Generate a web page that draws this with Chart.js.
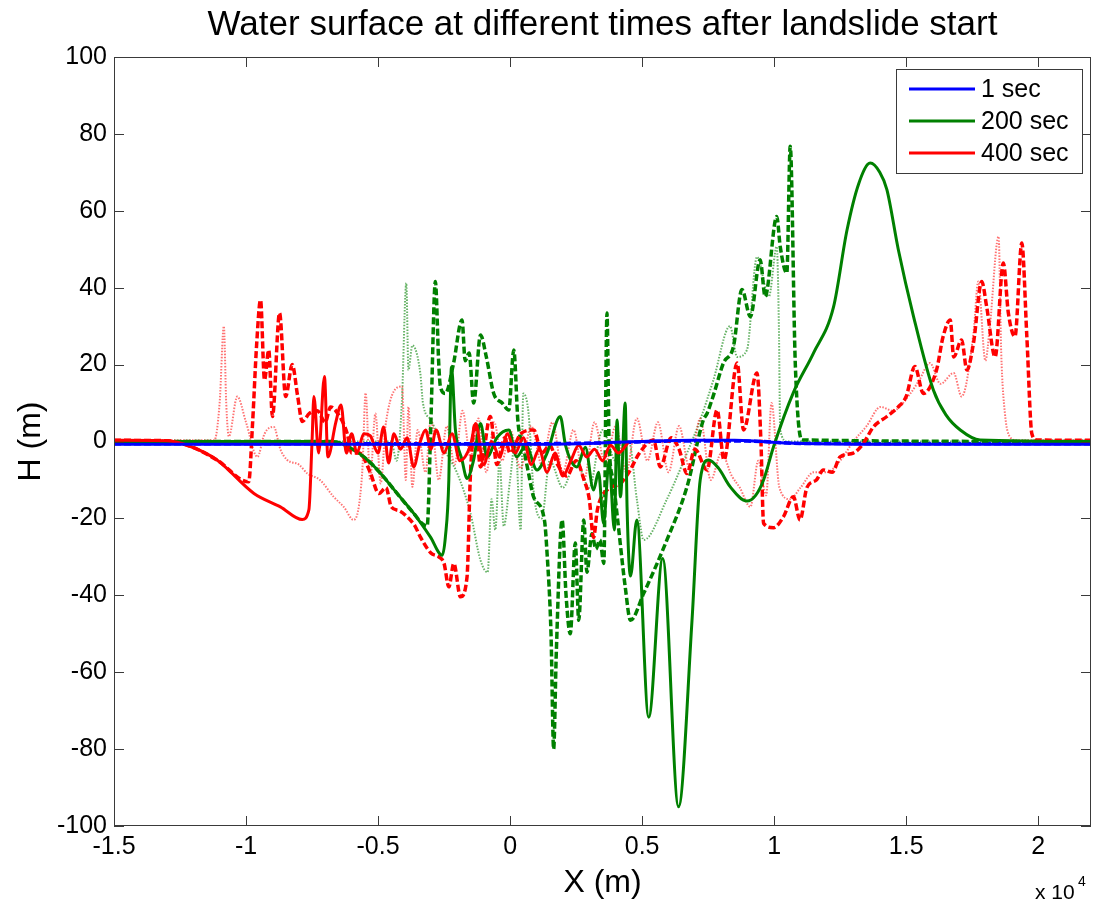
<!DOCTYPE html>
<html>
<head>
<meta charset="utf-8">
<title>Water surface</title>
<script src="https://cdn.jsdelivr.net/npm/chart.js@4.4.1/dist/chart.umd.min.js"></script>
<style>
  body { margin: 0; background: #fff; }
  canvas { display: block; }
</style>
</head>
<body>
<canvas id="chart" width="1094" height="904"></canvas>
<script>
"use strict"

// x values are read in units of 10^4 m (the axis multiplier), y in metres
const X_SCALE = 1e4;

const chartTitle = "Water surface at different times after landslide start";
const xTicks = [-1.5, -1, -0.5, 0, 0.5, 1, 1.5, 2];
const yTicks = [-100, -80, -60, -40, -20, 0, 20, 40, 60, 80, 100];
const seriesNames = ["1 sec", "200 sec", "400 sec"];

// 1 sec
const blueSolidX = [-1.5, -0.5, 0.0, 0.3, 0.4, 0.5, 0.6, 0.7, 0.85, 0.95, 1.05, 1.3, 2.2];
const blueSolidY = [-0.7, -0.7, -0.7, -0.5, -0.2, 0.0, 0.2, 0.3, 0.3, 0.0, -0.4, -0.7, -0.7];
const blueDashX = [-1.5, 0.0, 0.4, 0.6, 0.9, 1.1, 2.2];
const blueDashY = [-0.6, -0.6, -0.3, 0.1, 0.1, -0.5, -0.6];

// 200 sec
const greenSolidX = [-1.5, -0.7, -0.64, -0.554, -0.49, -0.428, -0.365, -0.302, -0.257, -0.245, -0.232, -0.226, -0.222, -0.207,
  -0.182, -0.163, -0.138, -0.112, -0.087, -0.05, -0.005, 0.025, 0.06, 0.102, 0.14, 0.19, 0.21, 0.253, 0.285, 0.316, 0.335,
  0.354, 0.375, 0.395, 0.405, 0.418, 0.436, 0.443, 0.456, 0.48, 0.525, 0.578, 0.638, 0.689, 0.72, 0.752, 0.79, 0.834,
  0.897, 0.93, 0.96, 0.998, 1.072, 1.149, 1.225, 1.276, 1.32, 1.364, 1.4, 1.427, 1.47, 1.528, 1.603, 1.65, 1.705, 1.78, 2.2];
const greenSolidY = [0, 0, -0.5, -4, -8.3, -13.5, -18.7, -24.8, -29.6, -24.8, -10, 11.7, 19.4, 3,
  -4.8, -9.6, -4.8, 4.7, -4, 1, 3, -4, -1, -7.4, -3, 6.5, -1, -6.6, -1.5, -12.6, -8,
  -21.3, -5, -23, 5.6, -14.4, 10, -17, -35, -20.4, -71.7, -30.4, -95, -46.5, -10, -4.8, -7, -11.8,
  -15.5, -14, -10, -1.3, 12.6, 23, 35, 55, 67, 72.4, 70, 65.5, 50, 32.5, 13.4, 7, 3, 0.4, 0];
const greenDashX = [-1.5, -0.7, -0.64, -0.554, -0.49, -0.428, -0.365, -0.33, -0.314, -0.3, -0.283, -0.27, -0.264, -0.245,
  -0.215, -0.182, -0.17, -0.155, -0.138, -0.112, -0.09, -0.062, -0.03, -0.005, 0.014, 0.03, 0.05, 0.07, 0.089, 0.13,
  0.14, 0.155, 0.165, 0.175, 0.197, 0.212, 0.228, 0.247, 0.26, 0.279, 0.291, 0.31, 0.325, 0.34, 0.355, 0.367, 0.375,
  0.39, 0.41, 0.436, 0.456, 0.506, 0.594, 0.67, 0.732, 0.746, 0.77, 0.808, 0.846, 0.878, 0.91, 0.947, 0.966, 1.01,
  1.023, 1.048, 1.061, 1.08, 1.105, 2.2];
const greenDashY = [0, 0, -0.5, -4, -8.3, -13.5, -18.7, -21.5, -22, 5, 41.6, 20, 14.3, 12.5,
  20, 31.6, 21, 23, 10, 27.7, 22, 12.5, 10, 8.2, 23.8, 5, -1.3, -8.3, -14.4, -20.4,
  -29, -50, -80, -55, -20.4, -40, -50, -26.4, -46.5, -20.4, -34, -24, -28, -25.6, -31.7, 33.4, 0,
  -10, -22, -37.8, -46.5, -39.5, -25.6, -11.8, 5.6, 7.3, 12, 20.4, 24.7, 39.5, 32.5, 47.3, 37.7, 58.5,
  50.7, 43.8, 76.8, 20.4, 0.4, 0];
const greenDotX = [-1.5, -0.45, -0.43, -0.41, -0.393, -0.385, -0.37, -0.34, -0.33, -0.3, -0.25, -0.2, -0.15, -0.112,
  -0.085, -0.07, -0.056, -0.04, -0.024, 0.0, 0.02, 0.04, 0.05, 0.07, 0.09, 0.12, 0.15, 0.2, 0.25, 0.3, 0.35, 0.4,
  0.45, 0.48, 0.506, 0.594, 0.67, 0.72, 0.77, 0.833, 0.86, 0.897, 0.935, 0.98, 1.01, 1.018, 1.023, 1.05, 2.2];
const greenDotY = [0, 0, -5, 10, 41.2, 18.6, 25, 17.8, 10, 5.6, -2, -8.3, -18.7, -30.9,
  -34, -15, -23, -5, -22, -10, 0, -23, 12.5, 7.3, -13.5, -20, -5, -12, -5, -12, 3, -5,
  0, -15, -25.6, -15, -3, 5.6, 16, 30, 22, 23.8, 48, 37.7, 50.7, 30, 3, 0, 0];

// 400 sec
const redSolidX = [-1.5, -1.3, -1.21, -1.11, -0.97, -0.87, -0.787, -0.762, -0.75, -0.743, -0.725, -0.703, -0.69, -0.66,
  -0.64, -0.62, -0.6, -0.58, -0.554, -0.53, -0.5, -0.479, -0.46, -0.44, -0.415, -0.39, -0.365, -0.34, -0.32, -0.3,
  -0.28, -0.25, -0.22, -0.19, -0.15, -0.13, -0.1, -0.07, -0.04, -0.01, 0.02, 0.05, 0.08, 0.11, 0.14, 0.17, 0.2, 0.23,
  0.26, 0.29, 0.32, 0.35, 0.38, 0.41, 0.45];
const redSolidY = [0.3, 0.2, -1.3, -4.8, -13.5, -17, -20.3, -17.8, 0, 11.7, -3, 16.9, -4, 5,
  9.5, -3, 2, -3, 2, 1.5, -3, 3.8, -5.6, 2, -2, 1, -6.6, 0, 3, -2,
  3, -3, 2, -5, -1, 4.7, -6, 0, -4, 2, -3, 1, -6, -2, -8, -3, -9, -5,
  -1, -4, -2, -5, -1, -3, 0];
const redDashX = [-1.5, -1.3, -1.21, -1.11, -0.99, -0.975, -0.96, -0.945, -0.93, -0.914, -0.9, -0.873, -0.85, -0.825,
  -0.805, -0.787, -0.76, -0.73, -0.7, -0.68, -0.65, -0.617, -0.6, -0.57, -0.53, -0.497, -0.47, -0.45, -0.42, -0.39,
  -0.36, -0.34, -0.3, -0.27, -0.25, -0.232, -0.213, -0.188, -0.163, -0.15, -0.131, -0.112, -0.075, -0.05, -0.02, 0.0,
  0.04, 0.09, 0.12, 0.15, 0.18, 0.215, 0.25, 0.28, 0.3, 0.316, 0.33, 0.342, 0.38, 0.417, 0.45, 0.49, 0.543, 0.569,
  0.61, 0.64, 0.67, 0.7, 0.746, 0.784, 0.81, 0.86, 0.884, 0.935, 0.95, 0.96, 0.998, 1.035, 1.073, 1.098, 1.124, 1.16,
  1.186, 1.22, 1.25, 1.3, 1.338, 1.376, 1.427, 1.47, 1.5, 1.533, 1.565, 1.615, 1.64, 1.667, 1.68, 1.71, 1.73, 1.755,
  1.786, 1.805, 1.837, 1.868, 1.887, 1.912, 1.938, 1.957, 1.976, 1.995, 2.2];
const redDashY = [0.3, 0.2, -1.3, -4.8, -10.5, 5, 25, 36.8, 16, 23.8, 6.5, 33.4, 11.7, 20,
  12, 5.2, 7.3, 8, 5, 9, 7, 2.1, -3, -3, -8, -13.5, -12, -17, -18, -19.6,
  -22, -24.8, -29, -30, -31.7, -37.8, -31.7, -40.4, -35.2, -8.3, 4.7, -6.6, 6.5, -6, 1, -3,
  2, 3, -3, -1, -6, -9, -5, -10, -15, -25, -18, -15, -12, -11, -8, -3, 0.4, -6.6,
  1, -2, -8.3, -2, -7.4, 8.2, -4.8, 20.4, 3, 17.8, 0, -21.3, -22.4, -19.6, -14.4, -20.4, -12, -10,
  -7.4, -8, -4, -3, -0.5, 3.8, 6.5, 9, 11.7, 19.5, 12.5, 18.6, 27.3, 31.6, 22, 26.4, 18.6, 25.6,
  41.6, 35, 22, 46.4, 33.4, 27.3, 51.6, 27.3, 2, 0.4, 0.3];
const redDotX = [-1.5, -1.12, -1.1, -1.084, -1.075, -1.065, -1.033, -1.0, -0.957, -0.93, -0.895, -0.87, -0.844, -0.8,
  -0.768, -0.72, -0.668, -0.63, -0.592, -0.56, -0.547, -0.53, -0.51, -0.49, -0.47, -0.409, -0.395, -0.385, -0.37,
  -0.35, -0.32, -0.3, -0.27, -0.24, -0.21, -0.18, -0.15, -0.12, -0.09, -0.06, -0.03, 0.0, 0.04, 0.08, 0.12, 0.16,
  0.2, 0.24, 0.28, 0.32, 0.36, 0.4, 0.44, 0.48, 0.52, 0.56, 0.6, 0.64, 0.68, 0.72, 0.76, 0.8, 0.84, 0.87, 0.91,
  0.94, 0.97, 0.99, 1.02, 1.06, 1.1, 1.15, 1.2, 1.25, 1.3, 1.35, 1.403, 1.45, 1.516, 1.55, 1.59, 1.63, 1.68, 1.71,
  1.755, 1.773, 1.8, 1.817, 1.85, 1.86, 1.874, 1.893, 1.92, 2.2];
const redDotY = [0.3, 0.3, 10, 30, 10, 1.3, 11.7, 5, -4, 2, 3.8, -2, -4.8, -6,
  -8.3, -10, -14.4, -17, -20.4, -8, 12.6, -10, 7.3, -10.9, 5, 14.3, -10, 9, -11.8,
  3, -8, 6, -10, 4, -6, 8, -4, 6, -8, 5, -5, 3, -7, 4, -6, 5,
  -8, 3, -10, 5, -6, 4, -8, 6, -5, 5, -8, 4, -7, 6, -10, -3, -9, -12, -17,
  -5, -14, 10, -12, -15, -12, -8, -8, -5, 0, 4, 9, 8, 12.5, 16, 20.4, 15, 17.8, 11.7,
  28.2, 41.6, 21, 30, 53.3, 23, 7.3, 1.2, 0.3, 0.3];

const FONT = "'Liberation Sans', Arial, Helvetica, sans-serif";
const BLUE = "#0000ff";
const GREEN = "#008000";
const RED = "#ff0000";

function pts(xs, ys) {
  return xs.map((v, i) => ({x: v * X_SCALE, y: ys[i]}));
}

function solid(label, color, xs, ys, order) {
  return {label: label, data: pts(xs, ys), borderColor: color, borderWidth: 3,
    pointRadius: 0, cubicInterpolationMode: "monotone", order: order, inLegend: true};
}
function dashed(label, color, xs, ys, order) {
  return {label: label, data: pts(xs, ys), borderColor: color, borderWidth: 3.5, borderDash: [7, 3],
    pointRadius: 0, cubicInterpolationMode: "monotone", order: order, inLegend: false};
}
function dotted(label, color, xs, ys, order) {
  return {label: label, data: pts(xs, ys), borderColor: color, borderWidth: 2, borderDash: [1.5, 1.5],
    pointRadius: 0, cubicInterpolationMode: "monotone", order: order, inLegend: false};
}

const datasets = [
  solid(seriesNames[0], BLUE, blueSolidX, blueSolidY, 0),
  solid(seriesNames[1], GREEN, greenSolidX, greenSolidY, 2),
  solid(seriesNames[2], RED, redSolidX, redSolidY, 1),
  dashed(seriesNames[0], BLUE, blueDashX, blueDashY, 5),
  dashed(seriesNames[1], GREEN, greenDashX, greenDashY, 4),
  dashed(seriesNames[2], RED, redDashX, redDashY, 3),
  dotted(seriesNames[1], "rgba(0,128,0,0.6)", greenDotX, greenDotY, 7),
  dotted(seriesNames[2], "rgba(255,0,0,0.55)", redDotX, redDotY, 6)
];

// matlab style box: inward ticks on all four sides, title over the axes, legend box, x10^4 multiplier
const matlabAxes = {
  id: "matlabAxes",
  afterDatasetsDraw(chart) {
    const ctx = chart.ctx;
    const a = chart.chartArea;
    const xs = chart.scales.x;
    const ys = chart.scales.y;
    ctx.save();
    ctx.strokeStyle = "#3a3a3a";
    ctx.lineWidth = 1;
    ctx.strokeRect(a.left + 0.5, a.top + 0.5, a.right - a.left - 1, a.bottom - a.top - 1);
    ctx.beginPath();
    xTicks.forEach(v => {
      const px = Math.round(xs.getPixelForValue(v * X_SCALE)) + 0.5;
      ctx.moveTo(px, a.bottom); ctx.lineTo(px, a.bottom - 10);
      ctx.moveTo(px, a.top); ctx.lineTo(px, a.top + 10);
    });
    yTicks.forEach(v => {
      const py = Math.round(ys.getPixelForValue(v)) + 0.5;
      ctx.moveTo(a.left, py); ctx.lineTo(a.left + 10, py);
      ctx.moveTo(a.right, py); ctx.lineTo(a.right - 10, py);
    });
    ctx.stroke();

    ctx.fillStyle = "#000";
    ctx.textAlign = "center";
    ctx.textBaseline = "middle";
    ctx.font = "35px " + FONT;
    ctx.fillText(chartTitle, (a.left + a.right) / 2, 25);

    // multiplier under the right end of the x axis
    ctx.textBaseline = "alphabetic";
    ctx.textAlign = "left";
    ctx.font = "21px " + FONT;
    ctx.fillText("x 10", 1035, 899);
    ctx.font = "14px " + FONT;
    ctx.fillText("4", 1078, 886);

    // legend, solid styles only
    const items = chart.data.datasets.filter(d => d.inLegend);
    const bx = 896, by = 69, bw = 186, bh = 104;
    ctx.fillStyle = "#fff";
    ctx.fillRect(bx, by, bw, bh);
    ctx.strokeStyle = "#3a3a3a";
    ctx.strokeRect(bx + 0.5, by + 0.5, bw, bh);
    ctx.font = "25px " + FONT;
    ctx.textBaseline = "middle";
    items.forEach((d, i) => {
      const cy = 89 + i * 32;
      ctx.strokeStyle = d.borderColor;
      ctx.lineWidth = 3;
      ctx.beginPath();
      ctx.moveTo(909, cy); ctx.lineTo(975, cy);
      ctx.stroke();
      ctx.fillStyle = "#000";
      ctx.fillText(d.label, 981, cy + 1);
    });
    ctx.restore();
  }
};

const tickFont = {family: FONT, size: 25};

new Chart(document.getElementById("chart"), {
  type: "line",
  data: {datasets: datasets},
  plugins: [matlabAxes],
  options: {
    responsive: false,
    animation: false,
    devicePixelRatio: 1,
    layout: {padding: {top: 57, right: 3, bottom: 2, left: 0}},
    plugins: {
      legend: {display: false},
      tooltip: {enabled: false},
      title: {display: false}
    },
    scales: {
      x: {
        type: "linear",
        min: -15000,
        max: 22000,
        grid: {display: false, drawTicks: false},
        border: {display: false},
        afterBuildTicks: s => { s.ticks = xTicks.map(v => ({value: v * X_SCALE})); },
        afterFit: s => { s.height = 76; },
        ticks: {
          color: "#000",
          font: tickFont,
          padding: 6,
          maxRotation: 0,
          autoSkip: false,
          callback: v => String(Math.round(v / X_SCALE * 10) / 10)
        },
        title: {display: true, text: "X (m)", color: "#000", font: {family: FONT, size: 32}, padding: {top: 0, bottom: 0}}
      },
      y: {
        min: -100,
        max: 100,
        grid: {display: false, drawTicks: false},
        border: {display: false},
        afterBuildTicks: s => { s.ticks = yTicks.map(v => ({value: v})); },
        afterFit: s => { s.width = 114; },
        ticks: {color: "#000", font: tickFont, padding: 7, autoSkip: false},
        title: {display: true, text: "H (m)", color: "#000", font: {family: FONT, size: 32}, padding: {top: 12, bottom: 0}}
      }
    }
  }
});
</script>
</body>
</html>
